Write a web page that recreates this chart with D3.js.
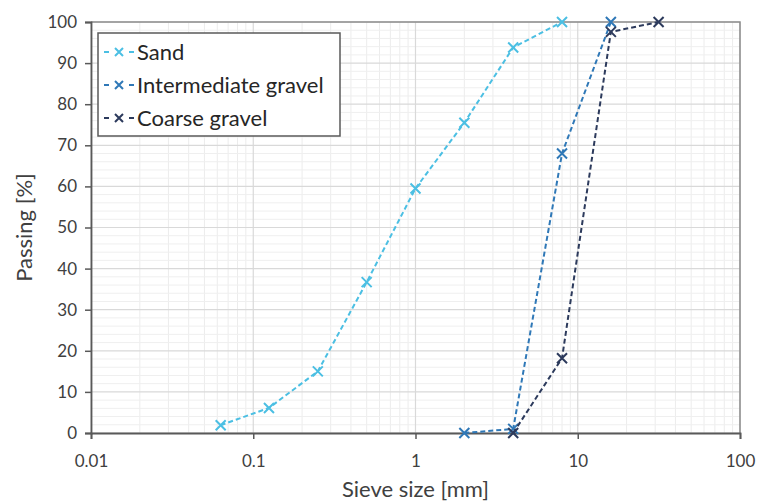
<!DOCTYPE html>
<html>
<head>
<meta charset="utf-8">
<script src="https://cdn.jsdelivr.net/npm/d3@7"></script>
<style>
  body { margin: 0; background: #fff; }
  text { font-family: Lato, "Open Sans", sans-serif; fill: #404040; }
</style>
</head>
<body>
<div id="chart"></div>
<script>
// sieve sizes [mm] and passing [%]
const sandSizes = [0.063, 0.125, 0.25, 0.5, 1, 2, 4, 8];
const sandPassing = [1.9, 6.1, 15, 36.7, 59.5, 75.5, 93.8, 100];
const interSizes = [2, 4, 8, 16];
const interPassing = [0, 1, 68, 100];
const coarseSizes = [4, 8, 16, 31.5];
const coarsePassing = [0, 18.2, 97.6, 100];

const seriesNames = ["Sand", "Intermediate gravel", "Coarse gravel"];
const seriesColors = ["#4bbfe3", "#2f78b7", "#2c3a5c"];
const xTicks = [0.01, 0.1, 1, 10, 100];
const yTicks = [0, 10, 20, 30, 40, 50, 60, 70, 80, 90, 100];

const series = [
  { name: seriesNames[0], color: seriesColors[0], pts: sandSizes.map((s, i) => [s, sandPassing[i]]) },
  { name: seriesNames[1], color: seriesColors[1], pts: interSizes.map((s, i) => [s, interPassing[i]]) },
  { name: seriesNames[2], color: seriesColors[2], pts: coarseSizes.map((s, i) => [s, coarsePassing[i]]) },
];

const width = 760;
const height = 502;
const margin = { top: 22, right: 20, bottom: 69, left: 91 };

const svg = d3
  .select("#chart")
  .append("svg")
  .attr("width", width)
  .attr("height", height);

const x = d3.scaleLog().domain([0.01, 100]).range([margin.left, width - margin.right]);
const y = d3.scaleLinear().domain([0, 100]).range([height - margin.bottom, margin.top]);

// minor grid
const minorX = [];
for (let d = 0.01; d < 100; d *= 10) {
  for (let k = 2; k <= 9; k++) minorX.push(d * k);
}
const minorY = d3.range(0, 101, 2).filter((v) => v % 10 !== 0);

svg.append("g")
  .selectAll("line")
  .data(minorX)
  .enter()
  .append("line")
  .attr("x1", (d) => x(d))
  .attr("x2", (d) => x(d))
  .attr("y1", y(0))
  .attr("y2", y(100))
  .attr("stroke", "#ececec")
  .attr("stroke-width", 1);

svg.append("g")
  .selectAll("line")
  .data(minorY)
  .enter()
  .append("line")
  .attr("x1", x(0.01))
  .attr("x2", x(100))
  .attr("y1", (d) => y(d))
  .attr("y2", (d) => y(d))
  .attr("stroke", "#efefef")
  .attr("stroke-width", 1);

// major grid
svg.append("g")
  .selectAll("line")
  .data(yTicks)
  .enter()
  .append("line")
  .attr("x1", x(0.01))
  .attr("x2", x(100))
  .attr("y1", (d) => y(d))
  .attr("y2", (d) => y(d))
  .attr("stroke", "#d9d9d9")
  .attr("stroke-width", 1.2);

svg.append("g")
  .selectAll("line")
  .data(xTicks)
  .enter()
  .append("line")
  .attr("x1", (d) => x(d))
  .attr("x2", (d) => x(d))
  .attr("y1", y(0))
  .attr("y2", y(100))
  .attr("stroke", "#d9d9d9")
  .attr("stroke-width", 1.2);

// frame top/right
svg.append("path")
  .attr("d", `M${x(0.01)},${y(100)}H${x(100)}V${y(0)}`)
  .attr("fill", "none")
  .attr("stroke", "#8c8c8c")
  .attr("stroke-width", 1.5);

// axes
const xAxis = svg.append("g")
  .attr("transform", `translate(0,${y(0)})`)
  .call(d3.axisBottom(x).tickValues(xTicks).tickFormat((d) => String(d)).tickSize(6).tickPadding(16));
const yAxis = svg.append("g")
  .attr("transform", `translate(${x(0.01)},0)`)
  .call(d3.axisLeft(y).tickValues(yTicks).tickSize(6).tickPadding(8));

[xAxis, yAxis].forEach((a) => {
  a.select(".domain").attr("stroke", "#595959").attr("stroke-width", 1.8);
  a.selectAll(".tick line").attr("stroke", "#595959").attr("stroke-width", 1.5);
  a.selectAll(".tick text").style("font-size", "17px").attr("fill", "#404040");
});

// axis titles
svg.append("text")
  .attr("x", (x(0.01) + x(100)) / 2)
  .attr("y", 497)
  .attr("text-anchor", "middle")
  .style("font-size", "22px")
  .text("Sieve size [mm]");

svg.append("text")
  .attr("transform", `translate(32,${(y(0) + y(100)) / 2}) rotate(-90)`)
  .attr("text-anchor", "middle")
  .style("font-size", "22px")
  .text("Passing [%]");

// lines and markers
const line = d3.line().x((d) => x(d[0])).y((d) => y(d[1]));
const markSize = 5;

function drawCross(g, cx, cy, color) {
  g.append("path")
    .attr("d", `M${cx - markSize},${cy - markSize}L${cx + markSize},${cy + markSize}M${cx - markSize},${cy + markSize}L${cx + markSize},${cy - markSize}`)
    .attr("stroke", color)
    .attr("stroke-width", 2)
    .attr("fill", "none");
}

series.forEach((s) => {
  svg.append("path")
    .datum(s.pts)
    .attr("d", line)
    .attr("fill", "none")
    .attr("stroke", s.color)
    .attr("stroke-width", 2)
    .attr("stroke-dasharray", "5,3");
  const g = svg.append("g");
  s.pts.forEach((p) => drawCross(g, x(p[0]), y(p[1]), s.color));
});

// legend
const legend = svg.append("g");
legend.append("rect")
  .attr("x", 98)
  .attr("y", 33)
  .attr("width", 242)
  .attr("height", 103)
  .attr("fill", "#fff")
  .attr("stroke", "#595959")
  .attr("stroke-width", 1.5);

series.forEach((s, i) => {
  const ly = 52 + i * 33;
  const g = legend.append("g");
  g.append("line")
    .attr("x1", 104)
    .attr("x2", 134)
    .attr("y1", ly)
    .attr("y2", ly)
    .attr("stroke", s.color)
    .attr("stroke-width", 2)
    .attr("stroke-dasharray", "5,20");
  g.append("line")
    .attr("x1", 129)
    .attr("x2", 134)
    .attr("y1", ly)
    .attr("y2", ly)
    .attr("stroke", s.color)
    .attr("stroke-width", 2);
  const ms = 4;
  g.append("path")
    .attr("d", `M${119 - ms},${ly - ms}L${119 + ms},${ly + ms}M${119 - ms},${ly + ms}L${119 + ms},${ly - ms}`)
    .attr("stroke", s.color)
    .attr("stroke-width", 2);
  g.append("text")
    .attr("x", 137)
    .attr("y", ly)
    .attr("dy", "0.35em")
    .style("font-size", "22px")
    .style("fill", "#262626")
    .text(s.name);
});
</script>
</body>
</html>
